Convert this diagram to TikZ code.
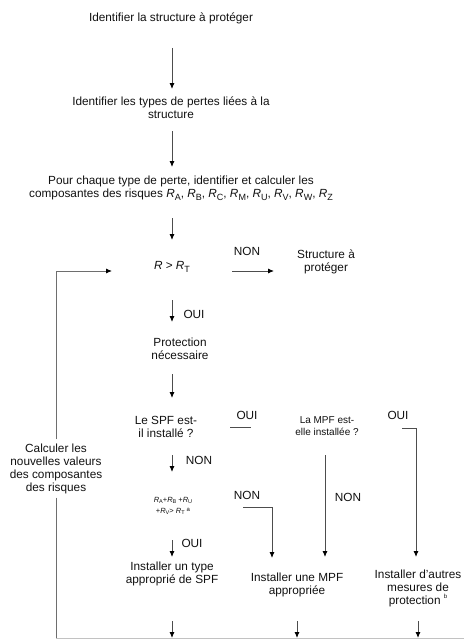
\documentclass[tikz,border=0pt]{standalone}
\usepackage{fontspec}
\setmainfont{Liberation Sans}
\usetikzlibrary{arrows.meta}

\definecolor{encre}{HTML}{111111}
\definecolor{trait}{HTML}{4D4D4D}
\definecolor{cadre}{HTML}{6E6E6E}
\definecolor{fond}{HTML}{C2C2C2}

% R with a lowered index
\newcommand{\risk}[2][9]{\textit{R}\raisebox{-0.45ex}{\fontsize{#1}{#1}\selectfont #2}}
\newcommand{\appel}[2][0.9ex]{\raisebox{#1}{\fontsize{6}{6}\selectfont #2}}

\tikzset{
  txt/.style={align=center, inner sep=0pt, text=encre, font=\fontsize{11.8}{13}\selectfont},
  petit/.style={txt, font=\fontsize{10}{12}\selectfont},
  mini/.style={txt, font=\fontsize{7.5}{11}\selectfont},
  fl/.style={draw=trait, line width=0.9pt, -{Latex[length=6pt,width=5pt,color=black]}},
  lien/.style={draw=trait, line width=0.9pt},
}

\begin{document}
\begin{tikzpicture}[x=1pt,y=-1pt]
\useasboundingbox (0,0) rectangle (464,642);

% main column
\node[txt] (ident) at (171,18) {Identifier la structure à protéger};
\node[txt] (pertes) at (171,107.5) {Identifier les types de pertes liées à la\\structure};
\node[txt] (compo) at (181,188.5) {Pour chaque type de perte, identifier et calculer les\\composantes des risques \risk{A}, \risk{B}, \risk{C}, \risk{M}, \risk{U}, \risk{V}, \risk{W}, \risk{Z}};
\node[txt] (rrt) at (172,267) {\textit{R} > \risk{T}};
\node[txt] (struct) at (326,261.5) {Structure à\\protéger};
\node[txt] (besoin) at (180,348.5) {Protection\\nécessaire};
\node[txt] (spf) at (166,427) {Le SPF est-\\il installé ?};
\node[petit] (mpf) at (327,426) {La MPF est-\\elle installée ?};
\node[mini] (somme) at (173,506) {\risk[5.5]{A}+\risk[5.5]{B} +\risk[5.5]{U}\\+\risk[5.5]{V}> \risk[5.5]{T} \appel[0.5ex]{a}};
\node[txt] (instspf) at (172,573.5) {Installer un type\\approprié de SPF};
\node[txt] (instmpf) at (297,585) {Installer une MPF\\appropriée};
\node[txt] (autres) at (418,588) {Installer d'autres\\mesures de\\protection \appel{b}};
\node[txt] (calc) at (56,468.5) {Calculer les\\nouvelles valeurs\\des composantes\\des risques};

% answers
\node[txt] (non1) at (247,251) {NON};
\node[txt] (oui1) at (194,314) {OUI};
\node[txt] (oui2) at (247,415) {OUI};
\node[txt] (oui3) at (398,415) {OUI};
\node[txt] (non2) at (199,460) {NON};
\node[txt] (non3) at (247,495) {NON};
\node[txt] (non4) at (348,497) {NON};
\node[txt] (oui4) at (192,543) {OUI};

% arrow ends
\coordinate (a1) at (172,48);   \coordinate (b1) at (172,89);
\coordinate (a2) at (172,131);  \coordinate (b2) at (172,167);
\coordinate (a3) at (172,218);  \coordinate (b3) at (172,240);
\coordinate (a4) at (232,271);  \coordinate (b4) at (274,271);
\coordinate (a5) at (172,300);  \coordinate (b5) at (172,322);
\coordinate (a6) at (172,374);  \coordinate (b6) at (172,398);
\coordinate (a7) at (230,427);  \coordinate (b7) at (251,427);
\coordinate (a8) at (402,428);  \coordinate (b8) at (416,557);
\coordinate (a9) at (325,455);  \coordinate (b9) at (325,557);
\coordinate (a10) at (172,455); \coordinate (b10) at (172,472);
\coordinate (a11) at (243,507); \coordinate (b11) at (272,558);
\coordinate (a12) at (172,540); \coordinate (b12) at (172,557);
\coordinate (retour) at (56,271); \coordinate (retourfin) at (112,271);
\coordinate (coin) at (56,638);   \coordinate (bord) at (464,638);

\draw[fl] (a1) -- (b1);
\draw[fl] (a2) -- (b2);
\draw[fl] (a3) -- (b3);
\draw[fl] (a4) -- (b4);
\draw[fl] (a5) -- (b5);
\draw[fl] (a6) -- (b6);
\draw[lien] (a7) -- (b7);
\draw[fl] (a8) -| (b8);
\draw[fl] (a9) -- (b9);
\draw[fl] (a10) -- (b10);
\draw[fl] (a11) -| (b11);
\draw[fl] (a12) -- (b12);

% bottom arrows
\foreach \col in {instspf,instmpf,autres}{
  \coordinate (h-\col) at ([yshift=-3pt]\col.center |- 0,618);
  \draw[fl] (h-\col) -- (h-\col |- coin);
}

% loop back
\draw[lien, draw=fond] (coin) -- (bord);
\draw[lien, draw=cadre] (calc.south) ++(0,4) -- (coin);
\draw[fl, draw=cadre] (calc.north) ++(0,-4) -- (retour) -- (retourfin);
\end{tikzpicture}
\end{document}
